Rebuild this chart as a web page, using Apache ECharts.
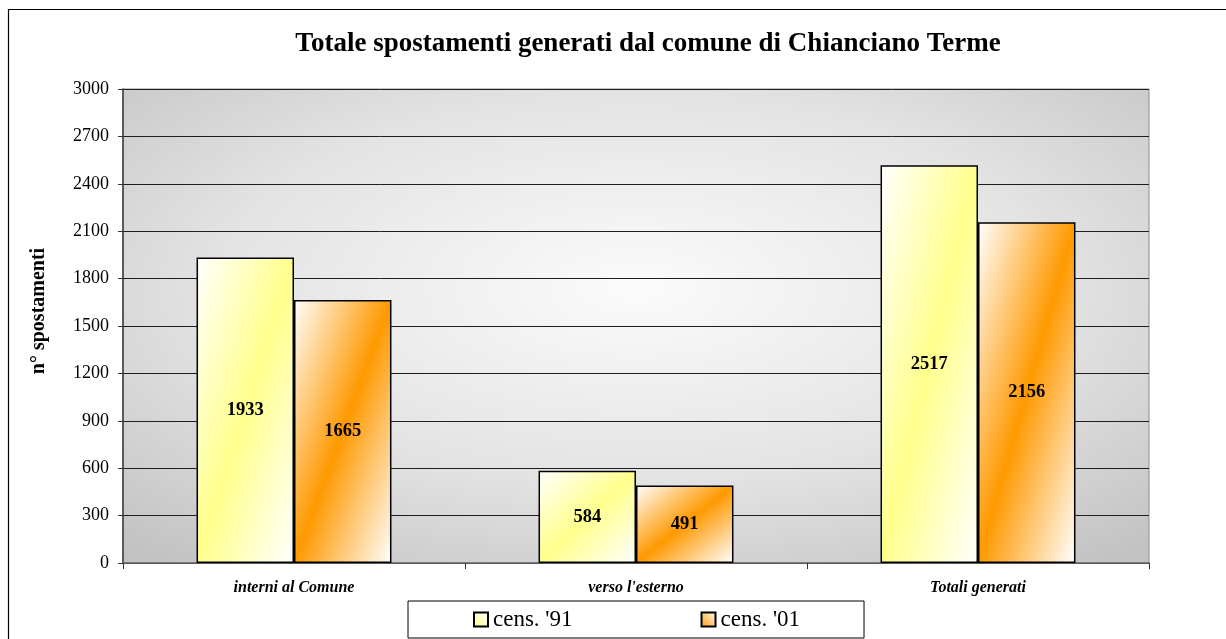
<!DOCTYPE html>
<html>
<head>
<meta charset="utf-8">
<script src="https://cdn.jsdelivr.net/npm/echarts@6/dist/echarts.min.js"></script>
<style>
  html, body { margin: 0; padding: 0; background: #fff; }
  #chart { width: 1226px; height: 639px; }
</style>
</head>
<body>
<div id="chart"></div>
<script>
// dati
const categories = ['interni al Comune', "verso l'esterno", 'Totali generati'];
const cens91 = [1933, 584, 2517];
const cens01 = [1665, 491, 2156];
const seriesNames = ["cens. '91", "cens. '01"];

// area del grafico (px)
const plot = { left: 123, top: 89, width: 1026, height: 474 };
const yMax = 3000;
const barW = 97.5;

// sfumatura diagonale: banda di colore lungo la diagonale del rettangolo
function diagGradient(value, color) {
  const h = value * plot.height / yMax;
  const w = barW;
  const d = h * h + w * w;
  return {
    type: 'linear', x: 0, y: 0, x2: 2 * h * h / d, y2: 2 * w * w / d,
    colorStops: [
      { offset: 0, color: '#ffffff' },
      { offset: 0.5, color: color },
      { offset: 1, color: '#ffffff' }
    ]
  };
}
function simpleGradient(color) {
  return {
    type: 'linear', x: 0, y: 1, x2: 1, y2: 0,
    colorStops: [
      { offset: 0, color: color },
      { offset: 1, color: '#ffffff' }
    ]
  };
}

const yellow = '#ffff8c';
const orange = '#ff9900';
const serif = 'Liberation Serif';

const chart = echarts.init(document.getElementById('chart'));
chart.setOption({
  backgroundColor: '#fff',
  textStyle: { fontFamily: serif },
  title: {
    text: 'Totale spostamenti generati dal comune di Chianciano Terme',
    left: 643,
    textAlign: 'center',
    top: 26,
    textStyle: { fontFamily: serif, fontSize: 27, fontWeight: 'bold', color: '#000' }
  },
  graphic: [{
    // cornice esterna
    type: 'rect', z: -20, silent: true,
    shape: { x: 8.5, y: 9.5, width: 1240, height: 660 },
    style: { fill: 'none', stroke: '#000', lineWidth: 1.2 }
  }, {
    // sfondo dell'area: sfumatura dal centro
    type: 'rect', z: -10, silent: true,
    x: plot.left, y: plot.top,
    scaleX: plot.width / plot.height,
    shape: { x: 0, y: 0, width: plot.height, height: plot.height },
    style: {
      fill: {
        type: 'radial', x: 0.5, y: 0.42, r: 0.74,
        colorStops: [
          { offset: 0, color: '#fbfbfb' },
          { offset: 0.55, color: '#e3e3e3' },
          { offset: 1, color: '#c2c2c2' }
        ]
      }
    }
  }],
  legend: {
    left: 408,
    top: 601,
    padding: [7, 64, 7, 65],
    itemWidth: 14,
    itemHeight: 14,
    itemGap: 128,
    icon: 'rect',
    borderColor: '#000',
    borderWidth: 1,
    backgroundColor: '#fff',
    textStyle: { fontFamily: serif, fontSize: 23, color: '#000' },
    data: seriesNames
  },
  grid: {
    left: plot.left,
    top: plot.top,
    width: plot.width,
    height: plot.height,
    show: true,
    backgroundColor: 'transparent',
    borderColor: '#8c8c8c',
    borderWidth: 1
  },
  xAxis: {
    type: 'category',
    data: categories,
    axisLine: { lineStyle: { color: '#6e6e6e', width: 1.5 } },
    axisTick: { show: true, length: 6, lineStyle: { color: '#333' } },
    axisLabel: {
      margin: 17,
      fontFamily: serif, fontSize: 16, fontWeight: 'bold', fontStyle: 'italic', color: '#000'
    }
  },
  yAxis: {
    type: 'value',
    min: 0,
    max: yMax,
    interval: 300,
    name: 'n° spostamenti',
    nameLocation: 'middle',
    nameGap: 74,
    nameTextStyle: {
      fontFamily: serif, fontSize: 20, fontWeight: 'bold', color: '#000',
      padding: [0, 0, 0, 30]
    },
    axisLine: { show: true, lineStyle: { color: '#3a3a3a', width: 1.5 } },
    axisTick: { show: true, length: 5, lineStyle: { color: '#333' } },
    axisLabel: {
      margin: 14, fontFamily: serif, fontSize: 18, color: '#000',
      formatter: v => String(v)
    },
    splitLine: { lineStyle: { color: '#1e1e1e', width: 1 } }
  },
  series: [{
    name: seriesNames[0],
    type: 'bar',
    barGap: '0%',
    barCategoryGap: '43%',
    itemStyle: { color: simpleGradient(yellow), borderColor: '#000', borderWidth: 1.5 },
    label: {
      show: true, position: 'inside',
      fontFamily: serif, fontSize: 18.5, fontWeight: 'bold', color: '#000'
    },
    data: cens91.map(v => ({ value: v, itemStyle: { color: diagGradient(v, yellow) } }))
  }, {
    name: seriesNames[1],
    type: 'bar',
    itemStyle: { color: simpleGradient(orange), borderColor: '#000', borderWidth: 1.5 },
    label: {
      show: true, position: 'inside',
      fontFamily: serif, fontSize: 18.5, fontWeight: 'bold', color: '#000'
    },
    data: cens01.map(v => ({ value: v, itemStyle: { color: diagGradient(v, orange) } }))
  }]
});
</script>
</body>
</html>
